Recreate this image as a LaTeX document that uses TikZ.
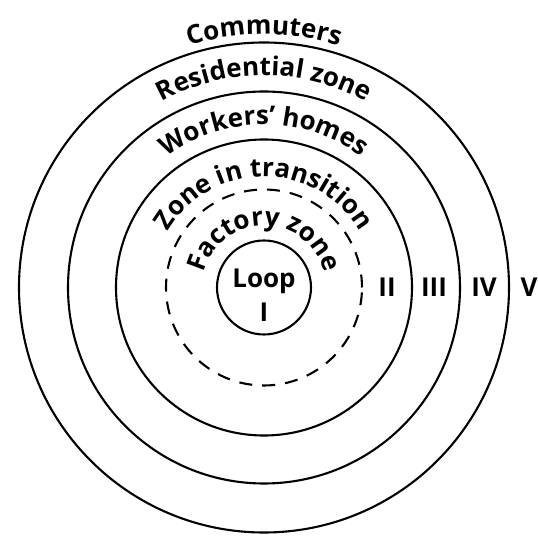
\documentclass[tikz,border=0pt]{standalone}
\usepackage{fontspec}
\setmainfont{Open Sans}
\usepackage{tikz}
\usetikzlibrary{decorations.text}
\newcommand{\zonefont}{\fontsize{26}{34}\selectfont\bfseries}

\begin{document}
\begin{tikzpicture}[x=1pt,y=1pt,
 every node/.style={align=center,font=\zonefont,inner sep=0pt},
 ring/.style={line width=2.1pt},
 arclabel/.style={decorate,decoration={text along path,text align=center,
   text={|\zonefont|#1}}}]
\useasboundingbox (-264,-249.5) rectangle (274,287.5);
% zone boundaries
\foreach \r in {47,148,196,245}
  \draw[ring] (0,0) circle[radius=\r];
\draw[ring,dash pattern=on 13pt off 10pt] (0,0) circle[radius=98];
% zone names along the arcs
\path[arclabel=Commuters] (-253,0) arc[start angle=180,end angle=0,radius=253];
\path[arclabel=Residential zone] (-212,0) arc[start angle=180,end angle=0,radius=212];
\path[arclabel=Workers' homes] (-163,0) arc[start angle=180,end angle=0,radius=163];
\path[arclabel=Zone in transition] (-111,0) arc[start angle=180,end angle=0,radius=111];
\path[arclabel=Factory zone] (-62,0) arc[start angle=180,end angle=0,radius=62];
% numerals
\node (loop) at (0,-8) {Loop\\I};
\node (two) at (123,0) {II};
\node (three) at (170,0) {III};
\node (four) at (220,0) {IV};
\node (five) at (265,0) {V};
\end{tikzpicture}
\end{document}
